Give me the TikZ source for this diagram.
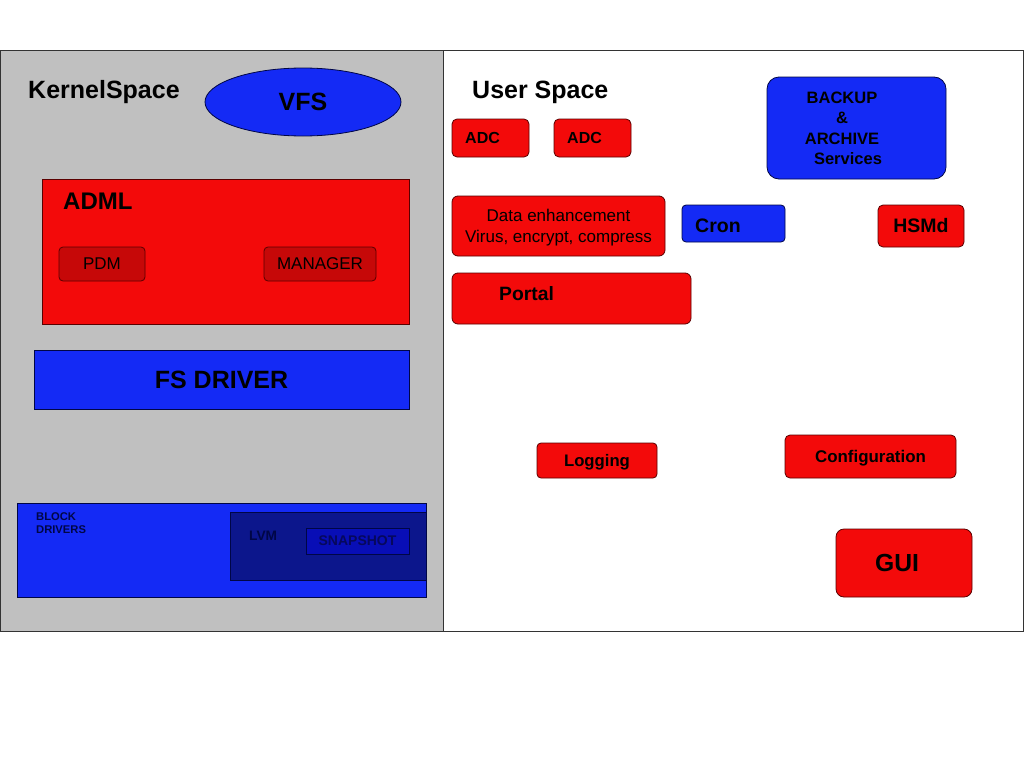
\documentclass[tikz,border=0pt]{standalone}
\usepackage{fontspec}
\setmainfont{Liberation Sans}
\usetikzlibrary{shapes.geometric}
\usetikzlibrary{positioning}

\definecolor{boxred}{RGB}{243,10,10}
\definecolor{darkred}{RGB}{198,8,8}
\definecolor{boxblue}{RGB}{20,42,245}
\definecolor{lvmblue}{RGB}{12,22,140}
\definecolor{snapblue}{RGB}{8,14,182}
\definecolor{snaptext}{RGB}{6,8,92}
\definecolor{panelgray}{RGB}{192,192,192}
\definecolor{redline}{RGB}{90,0,0}
\definecolor{blueline}{RGB}{0,6,70}

\tikzset{
panel/.style={rectangle, draw=black!80, line width=0.8pt, inner sep=0pt},
box/.style={rectangle, line width=0.8pt, inner sep=0pt, text depth=0pt, font=\bfseries},
redbox/.style={box, draw=redline, fill=boxred},
bluebox/.style={box, draw=blueline, fill=boxblue},
title/.style={anchor=base west, inner sep=0pt, font=\bfseries\fontsize{25}{30}\selectfont},
}

\begin{document}
\begin{tikzpicture}[x=1pt, y=-1pt]
\useasboundingbox[fill=white] (0,0) rectangle (1024,768);
\node[panel, fill=panelgray, minimum width=443pt, minimum height=581pt] (kernel) at (221.5,340.5) {};
\node[panel, fill=white, minimum width=580pt, minimum height=581pt] (user) at (733,340.5) {};

\node[title] (kerneltitle) at (28,98) {KernelSpace};
\node[bluebox, ellipse, minimum width=196pt, minimum height=68pt, font=\bfseries\fontsize{25}{30}\selectfont] (vfs) at (303,102) {VFS};

\node[redbox, minimum width=367pt, minimum height=145pt] (adml) at (225.5,251.5) {};
\node[title, font=\bfseries\fontsize{24}{29}\selectfont] (admltitle) at (63,209) {ADML};
\node[box, draw=redline, fill=darkred, rounded corners=4pt, font=\fontsize{17}{20}\selectfont, minimum width=86pt, minimum height=34pt] (pdm) at (102,264) {PDM};
\node[box, draw=redline, fill=darkred, rounded corners=4pt, font=\fontsize{17}{20}\selectfont, minimum width=112pt, minimum height=34pt] (manager) at (320,264) {MANAGER};

\node[bluebox, minimum width=375pt, minimum height=59pt, font=\bfseries\fontsize{25}{30}\selectfont] (fsdriver) at (221.5,379.5) {FS DRIVER};

\node[bluebox, minimum width=409pt, minimum height=94pt] (block) at (221.5,550) {};
\node[title, font=\bfseries\fontsize{11.2}{13}\selectfont, align=left, blueline] (blocktitle) at (36,533) {BLOCK\\DRIVERS};
\node[box, draw=blueline, fill=lvmblue, minimum width=196pt, minimum height=68pt] (lvm) at (328,546) {};
\node[title, font=\bfseries\fontsize{13.7}{16}\selectfont, blueline] (lvmtitle) at (249,540) {LVM};
\node[box, draw=blueline, fill=snapblue, text=snaptext, minimum width=103pt, minimum height=26pt, font=\bfseries\fontsize{14}{17}\selectfont] (snapshot) at (357.5,541) {SNAPSHOT};

\node[title] (usertitle) at (472,98) {User Space};
\node[redbox, rounded corners=5pt, minimum width=77pt, minimum height=38pt] (adca) at (490.5,138) {};
\node[title, font=\bfseries\fontsize{16}{19}\selectfont] (adcatitle) at (465,143) {ADC};
\node[redbox, rounded corners=5pt, minimum width=77pt, minimum height=38pt] (adcb) at (592.5,138) {};
\node[title, font=\bfseries\fontsize{16}{19}\selectfont] (adcbtitle) at (567,143) {ADC};

\node[bluebox, rounded corners=12pt, minimum width=179pt, minimum height=102pt] (backup) at (856.5,128) {};
\node[inner sep=0pt, align=center, font=\bfseries\fontsize{16.5}{20.5}\selectfont, text depth=0pt] (backuptext) at (842,128) {BACKUP\\\&\\ARCHIVE\\\hspace{12pt}Services};

\node[redbox, rounded corners=6pt, minimum width=213pt, minimum height=60pt, align=center, font=\fontsize{17}{21}\selectfont] (enhance) at (558.5,226) {Data enhancement\\Virus, encrypt, compress};
\node[bluebox, rounded corners=4pt, minimum width=103pt, minimum height=37pt] (cron) at (733.5,223.5) {};
\node[title, font=\bfseries\fontsize{19.5}{23}\selectfont] (crontitle) at (695,232) {Cron};
\node[redbox, rounded corners=5pt, minimum width=86pt, minimum height=42pt, font=\bfseries\fontsize{19.5}{23}\selectfont] (hsmd) at (921,226) {\raisebox{1.5pt}{HSMd}};

\node[redbox, rounded corners=6pt, minimum width=239pt, minimum height=51pt] (portal) at (571.5,298.5) {};
\node[title, font=\bfseries\fontsize{19.3}{23}\selectfont] (portaltitle) at (499,300) {Portal};

\node[redbox, rounded corners=4pt, minimum width=120pt, minimum height=35pt, font=\bfseries\fontsize{16.7}{20}\selectfont] (logging) at (597,460.5) {Logging};
\node[redbox, rounded corners=5pt, minimum width=171pt, minimum height=43pt, font=\bfseries\fontsize{16.9}{20}\selectfont] (config) at (870.5,456.5) {Configuration};
\node[redbox, rounded corners=8pt, minimum width=136pt, minimum height=68pt, font=\bfseries\fontsize{24.7}{29}\selectfont] (gui) at (904,563) {\hspace{-14pt}GUI};
\end{tikzpicture}
\end{document}
